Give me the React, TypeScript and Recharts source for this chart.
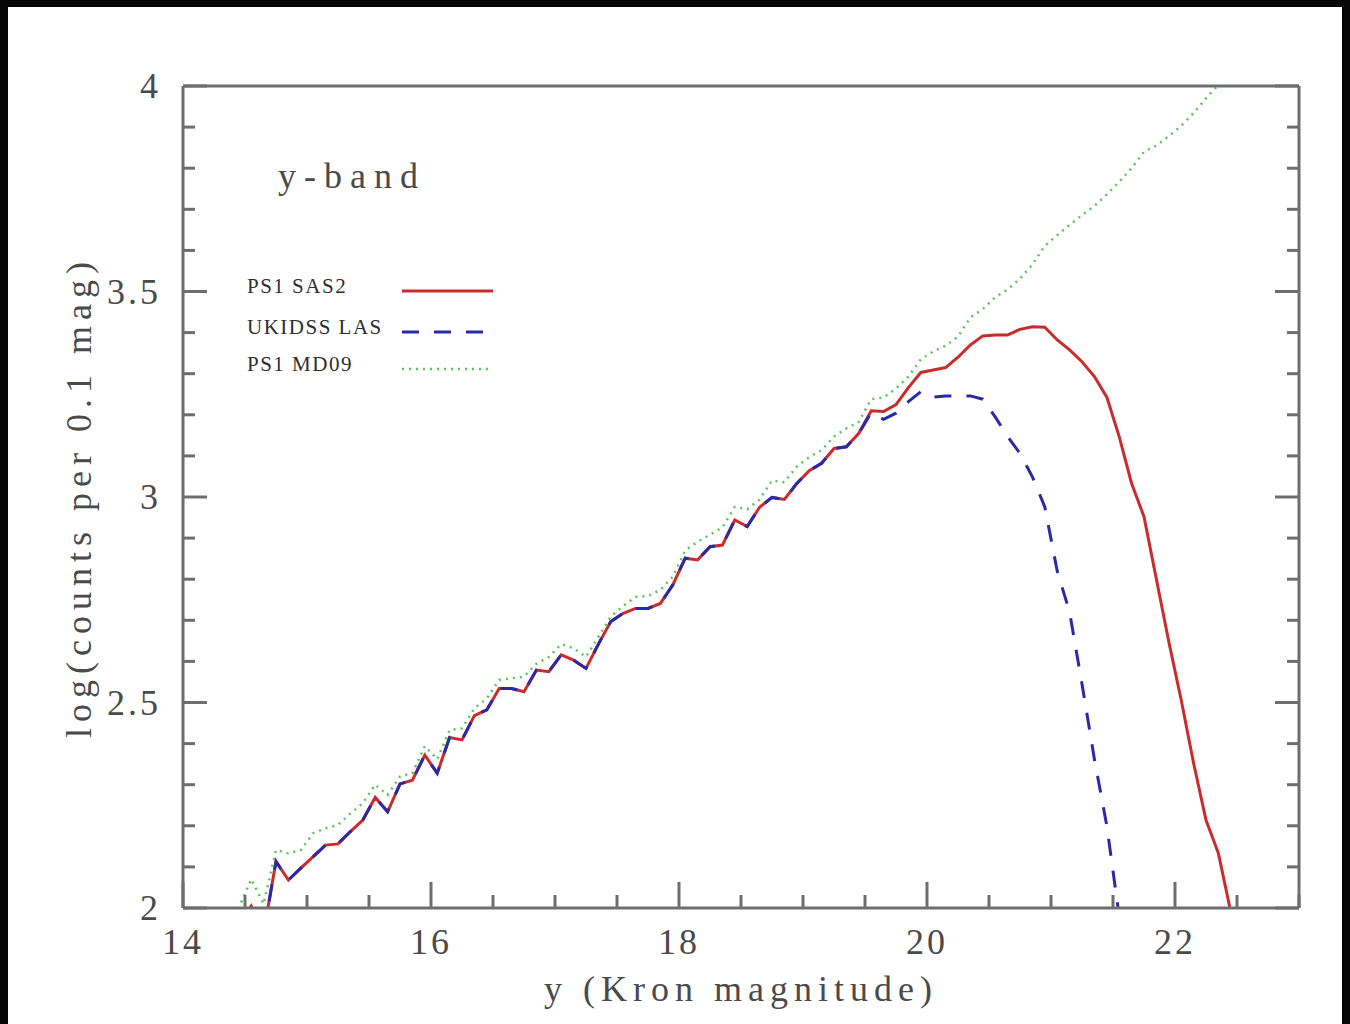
import React from 'react';
import { LineChart, Line, XAxis, YAxis } from 'recharts';

// bin centres, 0.1 mag bins
const magBins = [
  14.35, 14.45, 14.55, 14.65, 14.75, 14.85, 14.95, 15.05, 15.15, 15.25,
  15.35, 15.45, 15.55, 15.65, 15.75, 15.85, 15.95, 16.05, 16.15, 16.25,
  16.35, 16.45, 16.55, 16.65, 16.75, 16.85, 16.95, 17.05, 17.15, 17.25,
  17.35, 17.45, 17.55, 17.65, 17.75, 17.85, 17.95, 18.05, 18.15, 18.25,
  18.35, 18.45, 18.55, 18.65, 18.75, 18.85, 18.95, 19.05, 19.15, 19.25,
  19.35, 19.45, 19.55, 19.65, 19.75, 19.85, 19.95, 20.05, 20.15, 20.25,
  20.35, 20.45, 20.55, 20.65, 20.75, 20.85, 20.95, 21.05, 21.15, 21.25,
  21.35, 21.45, 21.55, 21.65, 21.75, 21.85, 21.95, 22.05, 22.15, 22.25,
  22.35, 22.45,
];

const ps1Sas2 = [
  null, 1.96, 2.005, 1.94, 2.113, 2.068, 2.097, 2.125, 2.153, 2.156,
  2.186, 2.214, 2.269, 2.234, 2.302, 2.311, 2.372, 2.328, 2.415, 2.409,
  2.468, 2.482, 2.534, 2.534, 2.526, 2.579, 2.575, 2.616, 2.603, 2.583,
  2.642, 2.697, 2.717, 2.729, 2.729, 2.741, 2.786, 2.851, 2.847, 2.879,
  2.883, 2.944, 2.928, 2.975, 2.999, 2.994, 3.033, 3.064, 3.082, 3.118,
  3.122, 3.155, 3.21, 3.208, 3.225, 3.266, 3.303, 3.309, 3.315, 3.34,
  3.37, 3.392, 3.394, 3.394, 3.408, 3.414, 3.413, 3.382, 3.358, 3.329,
  3.293, 3.243, 3.147, 3.033, 2.952, 2.8, 2.648, 2.506, 2.352, 2.214,
  2.133, 1.99,
];

const ukidssLas = [
  null, null, null, 1.94, 2.113, 2.068, 2.097, 2.125, 2.153, 2.156,
  2.186, 2.214, 2.269, 2.234, 2.302, 2.311, 2.372, 2.328, 2.415, 2.409,
  2.468, 2.482, 2.534, 2.534, 2.526, 2.579, 2.575, 2.616, 2.603, 2.583,
  2.642, 2.697, 2.717, 2.729, 2.729, 2.741, 2.786, 2.851, 2.847, 2.879,
  2.883, 2.944, 2.928, 2.975, 2.999, 2.994, 3.033, 3.064, 3.082, 3.118,
  3.122, 3.155, 3.205, 3.189, 3.204, 3.232, 3.256, 3.243, 3.246, 3.246,
  3.246, 3.238, 3.195, 3.147, 3.106, 3.049, 2.976, 2.82, 2.72, 2.545,
  2.362, 2.2, 1.98, null, null, null, null, null, null, null,
  null, null,
];

const ps1Md09 = [
  1.9, 2.0, 2.07, 2.01, 2.141, 2.133, 2.141, 2.182, 2.194, 2.202,
  2.23, 2.255, 2.3, 2.275, 2.32, 2.328, 2.394, 2.362, 2.433, 2.437,
  2.486, 2.51, 2.555, 2.559, 2.563, 2.594, 2.611, 2.642, 2.632, 2.611,
  2.66, 2.709, 2.735, 2.757, 2.759, 2.774, 2.806, 2.87, 2.891, 2.908,
  2.926, 2.976, 2.97, 2.994, 3.04, 3.036, 3.074, 3.097, 3.114, 3.147,
  3.167, 3.183, 3.238, 3.242, 3.264, 3.293, 3.335, 3.354, 3.368, 3.39,
  3.437, 3.457, 3.486, 3.505, 3.531, 3.566, 3.611, 3.637, 3.662, 3.686,
  3.708, 3.736, 3.767, 3.8, 3.84, 3.855, 3.878, 3.903, 3.934, 3.97,
  4.003, 4.04,
];

const xTicks = [14, 14.5, 15, 15.5, 16, 16.5, 17, 17.5, 18, 18.5, 19, 19.5, 20, 20.5, 21, 21.5, 22, 22.5, 23];
const xLabelTicks = [14, 16, 18, 20, 22];
const yTicks = [2, 2.1, 2.2, 2.3, 2.4, 2.5, 2.6, 2.7, 2.8, 2.9, 3, 3.1, 3.2, 3.3, 3.4, 3.5, 3.6, 3.7, 3.8, 3.9, 4];
const yLabelTicks = [2, 2.5, 3, 3.5, 4];

const toSeries = (vals: (number | null)[]) =>
  magBins.map((mag, i) => ({ mag, v: vals[i] })).filter((d) => d.v !== null);

const sas2Data = toSeries(ps1Sas2);
const ukidssData = toSeries(ukidssLas);
const md09Data = toSeries(ps1Md09);

const FRAME = '#6e6e6e';
const TXT = '#4a4a4a';
const font = { fontFamily: '"Liberation Serif", serif', fontSize: 36, letterSpacing: 3 };
const titleFont = { ...font, letterSpacing: 6 };

const RED = '#cc2b2b';
const BLUE = '#2a2aa8';
const GREEN = '#5cc25c';

const hasLabel = (list: number[], v: number) => list.some((t) => Math.abs(t - v) < 1e-6);

const BottomTick = ({ x, y, payload }: any) => {
  const major = hasLabel(xLabelTicks, payload.value);
  return (
    <g>
      <line x1={x} y1={y} x2={x} y2={y - (major ? 26 : 13)} stroke={FRAME} strokeWidth={3} />
      {major && (
        <text x={x} y={y + 46} textAnchor="middle" fill={TXT} {...font}>
          {payload.value}
        </text>
      )}
    </g>
  );
};

const TopTick = ({ x, y, payload }: any) => {
  const major = hasLabel(xLabelTicks, payload.value);
  return <line x1={x} y1={y} x2={x} y2={y + (major ? 26 : 13)} stroke={FRAME} strokeWidth={3} />;
};

const LeftTick = ({ x, y, payload }: any) => {
  const major = hasLabel(yLabelTicks, payload.value);
  return (
    <g>
      <line x1={x} y1={y} x2={x + (major ? 24 : 12)} y2={y} stroke={FRAME} strokeWidth={3} />
      {major && (
        <text x={x - 22} y={y + 12} textAnchor="end" fill={TXT} {...font}>
          {payload.value}
        </text>
      )}
    </g>
  );
};

const RightTick = ({ x, y, payload }: any) => {
  const major = hasLabel(yLabelTicks, payload.value);
  return <line x1={x} y1={y} x2={x - (major ? 24 : 12)} y2={y} stroke={FRAME} strokeWidth={3} />;
};

const legendRows = [
  { name: 'PS1 SAS2', color: RED, dash: undefined, width: 3, y: 292, x2: 493 },
  { name: 'UKIDSS LAS', color: BLUE, dash: '17 15', width: 3, y: 333, x2: 483 },
  { name: 'PS1 MD09', color: GREEN, dash: '2 5', width: 2.5, y: 370, x2: 490 },
];

const axisLine = { stroke: FRAME, strokeWidth: 3 };

export default function App() {
  return (
    <div style={{ position: 'absolute', left: 0, top: 0, width: 1350, height: 1024, background: '#060606', overflow: 'hidden' }}>
      <div style={{ position: 'absolute', left: 8, top: 7, width: 1334, height: 1017, background: '#ffffff' }} />
      <div style={{ position: 'absolute', left: 0, top: 0 }}>
        <LineChart width={1350} height={1024} margin={{ top: 76, right: 41, bottom: 16, left: 43 }}>
          <XAxis
            xAxisId={0}
            dataKey="mag"
            type="number"
            domain={[14, 23]}
            allowDataOverflow
            ticks={xTicks}
            interval={0}
            height={100}
            tickSize={0}
            tickMargin={0}
            tickLine={false}
            axisLine={axisLine}
            tick={BottomTick}
          />
          <XAxis
            xAxisId="top"
            orientation="top"
            type="number"
            domain={[14, 23]}
            allowDataOverflow
            ticks={xTicks}
            interval={0}
            height={10}
            tickSize={0}
            tickMargin={0}
            tickLine={false}
            axisLine={axisLine}
            tick={TopTick}
          />
          <YAxis
            yAxisId={0}
            type="number"
            domain={[2, 4]}
            allowDataOverflow
            ticks={yTicks}
            interval={0}
            width={140}
            tickSize={0}
            tickMargin={0}
            tickLine={false}
            axisLine={axisLine}
            tick={LeftTick}
          />
          <YAxis
            yAxisId="right"
            orientation="right"
            type="number"
            domain={[2, 4]}
            allowDataOverflow
            ticks={yTicks}
            interval={0}
            width={10}
            tickSize={0}
            tickMargin={0}
            tickLine={false}
            axisLine={axisLine}
            tick={RightTick}
          />
          <Line data={sas2Data} dataKey="v" name="PS1 SAS2" type="linear" stroke={RED} strokeWidth={3} dot={false} isAnimationActive={false} />
          <Line data={ukidssData} dataKey="v" name="UKIDSS LAS" type="linear" stroke={BLUE} strokeWidth={3} strokeDasharray="17 15" dot={false} isAnimationActive={false} />
          <Line data={md09Data} dataKey="v" name="PS1 MD09" type="linear" stroke={GREEN} strokeWidth={2.5} strokeDasharray="2 5" dot={false} isAnimationActive={false} />
        </LineChart>
      </div>
      <svg width={1350} height={1024} style={{ position: 'absolute', left: 0, top: 0, pointerEvents: 'none' }}>
        <text x={278} y={188} fill={TXT} {...font} letterSpacing={8}>y-band</text>
        {legendRows.map((r) => (
          <g key={r.name}>
            <text x={247} y={r.y + 1} fill="#2e2e2e" fontFamily='"Liberation Serif", serif' fontSize={21} letterSpacing={1.5}>
              {r.name}
            </text>
            <line x1={402} y1={r.y - 1} x2={r.x2} y2={r.y - 1} stroke={r.color} strokeWidth={r.width} strokeDasharray={r.dash} />
          </g>
        ))}
        <text x={741} y={1001} textAnchor="middle" fill={TXT} {...titleFont}>y (Kron magnitude)</text>
        <text x={91} y={497} textAnchor="middle" fill={TXT} transform="rotate(-90 91 497)" {...titleFont}>
          log(counts per 0.1 mag)
        </text>
      </svg>
    </div>
  );
}
